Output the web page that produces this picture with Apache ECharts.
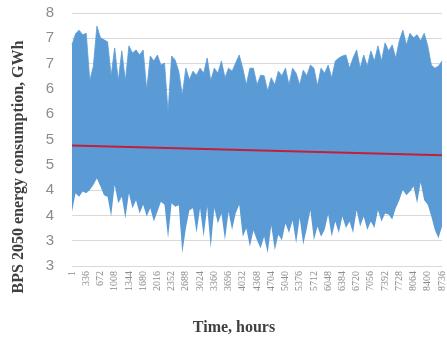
<!DOCTYPE html>
<html>
<head>
<meta charset="utf-8">
<script src="https://cdn.jsdelivr.net/npm/echarts@6/dist/echarts.min.js"></script>
<style>
  html, body { margin: 0; padding: 0; background: #fff; }
  #chart { width: 447px; height: 340px; }
</style>
</head>
<body>
<div id="chart"></div>
<script>
// Hourly consumption, read as the band drawn per 84-hour bin (GWh)
const upper = [
  7.37, 7.59, 7.66, 7.57, 7.60, 6.66, 6.95, 7.74, 7.51, 7.47,
  7.43, 6.76, 7.31, 6.66, 7.25, 6.66, 7.35, 7.21, 7.27, 7.17,
  7.27, 6.48, 7.15, 7.05, 7.17, 6.97, 7.01, 6.04, 7.15, 7.07,
  6.85, 6.38, 6.91, 6.68, 6.85, 6.77, 6.91, 6.81, 7.11, 6.66,
  6.91, 6.81, 7.05, 6.72, 6.91, 6.85, 7.01, 7.17, 6.91, 6.58,
  6.91, 6.91, 6.58, 6.77, 6.76, 6.46, 6.72, 6.58, 6.85, 6.76,
  6.91, 6.58, 6.91, 6.81, 6.58, 6.87, 6.76, 6.97, 6.91, 6.56,
  6.91, 6.81, 6.97, 6.72, 7.05, 7.11, 7.15, 7.17, 6.91, 7.11,
  7.27, 6.91, 7.17, 6.95, 7.25, 7.05, 7.35, 7.05, 7.41, 7.25,
  7.37, 7.11, 7.45, 7.66, 7.37, 7.60, 7.51, 7.57, 7.45, 7.60,
  7.35, 6.97, 6.91, 6.95, 7.05
]
const lower = [
  4.07, 4.44, 4.37, 4.47, 4.44, 4.50, 4.60, 4.73, 4.57, 4.40,
  4.37, 3.98, 4.60, 4.24, 4.37, 3.94, 4.44, 4.14, 4.30, 4.04,
  4.21, 3.98, 4.14, 3.88, 4.07, 4.27, 4.21, 3.55, 4.24, 4.17,
  4.20, 3.25, 3.74, 4.10, 4.14, 3.65, 4.14, 3.58, 4.17, 3.35,
  4.14, 3.84, 4.04, 3.51, 4.07, 3.71, 4.04, 4.21, 3.58, 3.74,
  3.38, 3.70, 3.51, 3.35, 3.58, 3.25, 3.80, 3.31, 3.62, 3.51,
  3.84, 3.65, 3.90, 3.45, 3.95, 3.42, 3.74, 4.10, 3.51, 3.78,
  3.58, 3.71, 4.02, 3.58, 3.88, 3.65, 3.98, 3.75, 3.88, 3.65,
  4.10, 3.78, 3.98, 3.71, 3.88, 3.75, 4.10, 3.88, 4.04, 4.02,
  3.92, 4.14, 4.30, 4.50, 4.40, 4.47, 4.57, 4.24, 4.65, 4.30,
  4.21, 3.98, 3.71, 3.55, 3.78
]
// linear trend: value at first and last hour
const trendStart = 5.38
const trendEnd = 5.19

const xTickLabels = ['1', '336', '672', '1008', '1344', '1680', '2016', '2352', '2688',
  '3024', '3360', '3696', '4032', '4368', '4704', '5040', '5376', '5712', '6048',
  '6384', '6720', '7056', '7392', '7728', '8064', '8400', '8736']
const yTickLabels = ['3', '3', '4', '4', '5', '5', '6', '6', '7', '7', '8']

const binHours = 84
const hours = upper.map((_, i) => (i === 0 ? 1 : i * binHours))
const band = upper.map((u, i) => +(u - lower[i]).toFixed(2))
const trend = upper.map((_, i) => (i === 0 ? trendStart : i === upper.length - 1 ? trendEnd : null))

const blue = '#5b9bd5'
const gridColor = '#d9d9d9'

const chart = echarts.init(document.getElementById('chart'))
chart.setOption({
  animation: false,
  grid: { left: 72, right: 1, top: 13, bottom: 74 },
  xAxis: {
    type: 'category',
    data: hours,
    boundaryGap: false,
    axisLine: { lineStyle: { color: gridColor, width: 1 } },
    axisTick: { show: false },
    splitLine: { show: false },
    axisLabel: {
      interval: 3,
      rotate: 90,
      margin: 5,
      color: '#8c8c8c',
      fontFamily: 'Liberation Serif',
      fontSize: 10,
      formatter: (v, i) => xTickLabels[i / 4] ?? '',
    },
  },
  yAxis: {
    type: 'value',
    min: 3,
    max: 8,
    interval: 0.5,
    axisLine: { show: false },
    axisTick: { show: false },
    splitLine: { lineStyle: { color: gridColor, width: 1 } },
    axisLabel: {
      margin: 18,
      color: '#8c8c8c',
      fontFamily: 'Liberation Sans',
      fontSize: 15,
      formatter: v => yTickLabels[Math.round((v - 3) / 0.5)],
    },
  },
  graphic: [
    {
      type: 'text',
      x: 19, y: 167,
      rotation: Math.PI / 2,
      style: {
        text: 'BPS 2050 energy consumption, GWh',
        font: 'bold 16px "Liberation Serif"',
        fill: '#404040',
        textAlign: 'center',
        textVerticalAlign: 'middle',
      },
    },
    {
      type: 'text',
      x: 234, y: 328,
      style: {
        text: 'Time, hours',
        font: 'bold 16px "Liberation Serif"',
        fill: '#404040',
        textAlign: 'center',
        textVerticalAlign: 'middle',
      },
    },
  ],
  series: [
    {
      type: 'line',
      stack: 'load',
      data: lower,
      symbol: 'none',
      lineStyle: { width: 0, opacity: 0 },
      silent: true,
    },
    {
      type: 'line',
      stack: 'load',
      data: band,
      symbol: 'none',
      lineStyle: { width: 0.8, color: blue },
      areaStyle: { color: blue, opacity: 1 },
    },
    {
      type: 'line',
      data: trend,
      connectNulls: true,
      symbol: 'none',
      lineStyle: { color: '#c0203a', width: 2 },
      z: 5,
    },
  ],
})
</script>
</body>
</html>
